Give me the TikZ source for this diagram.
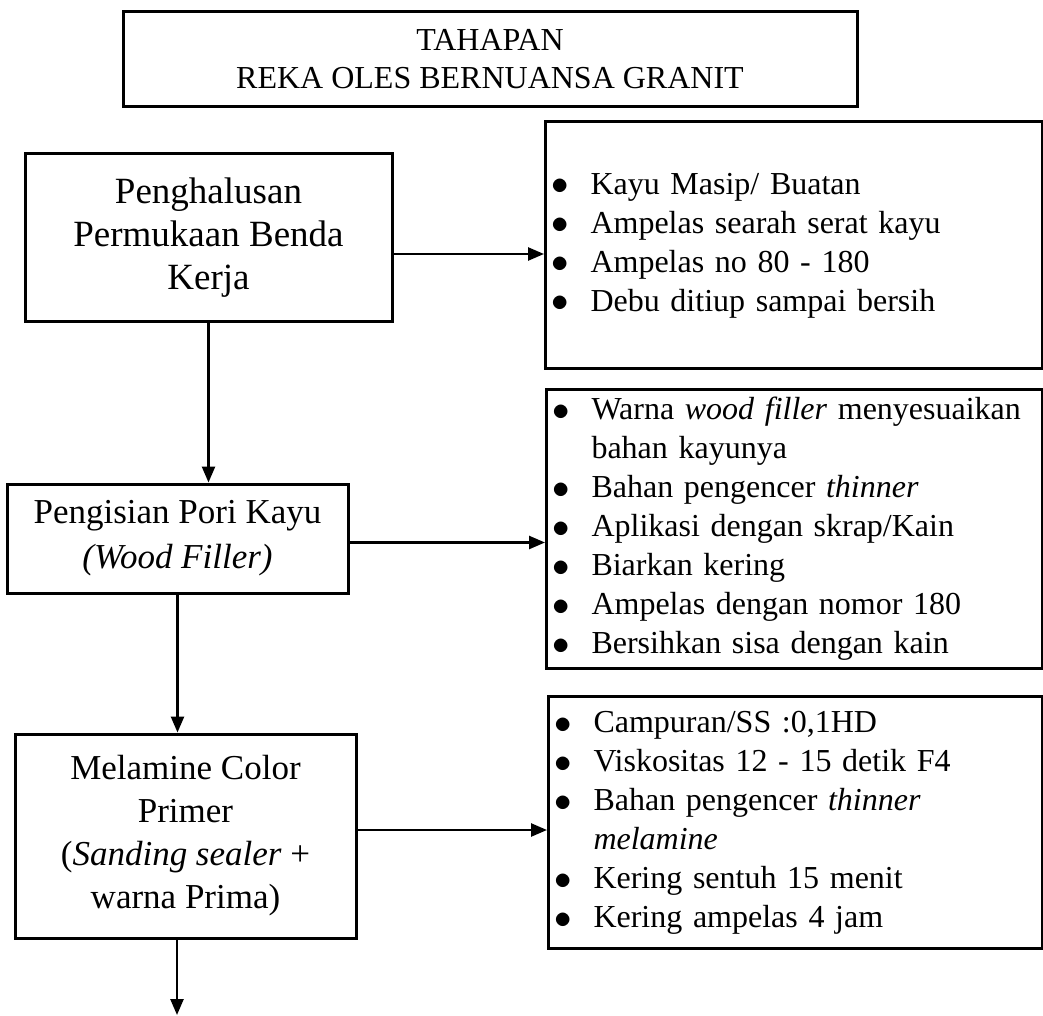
\documentclass[tikz,border=0pt]{standalone}
\usepackage{fontspec}
\setmainfont{Liberation Serif}
\usetikzlibrary{arrows.meta,positioning,calc}

\newcommand{\bul}{\makebox[45pt][l]{\hspace{6pt}\raisebox{-0.02em}{\scalebox{1.4}{$\bullet$}}}}

\begin{document}
\begin{tikzpicture}[x=1pt, y=-1pt,
    stage/.style={draw, line width=3pt, align=center, inner sep=0pt},
    infobox/.style={draw, line width=3pt, anchor=north west, align=left, inner sep=0pt,
        font=\fontsize{32}{39}\selectfont},
    flow/.style={line width=2.5pt, -{Triangle[length=16pt,width=13pt]}}]
    \useasboundingbox (0,0) rectangle (1043,1016);

    \node[stage, minimum width=734, minimum height=95, font=\fontsize{32}{38}\selectfont] (title) at (490,59.5) {TAHAPAN\\REKA OLES BERNUANSA GRANIT};

    \node[stage, minimum width=367, minimum height=167, font=\fontsize{37}{43}\selectfont] (smooth) at (208.5,237.5) {Penghalusan\\Permukaan Benda\\Kerja};
    \node[stage, minimum width=341, minimum height=109, font=\fontsize{35}{45}\selectfont] (filler) at (177.5,538.5) {Pengisian Pori Kayu\\\textit{(Wood Filler)}};
    \node[stage, minimum width=341, minimum height=204, font=\fontsize{35}{43}\selectfont] (primer) at (185.5,836) {Melamine Color\\Primer\\(\textit{Sanding sealer} +\\warna Prima)};

    \node[infobox, text width=497pt, minimum height=247] (info1) at (544,120) {\noindent\begin{tabular}{@{}l@{}l@{}}
        \bul & Kayu Masip/ Buatan\\
        \bul & Ampelas searah serat kayu\\
        \bul & Ampelas no 80 - 180\\
        \bul & Debu ditiup sampai bersih
    \end{tabular}};
    \node[infobox, text width=496pt, minimum height=279] (info2) at (545,388) {\noindent\begin{tabular}{@{}l@{}l@{}}
        \bul & Warna \textit{wood filler} menyesuaikan\\
             & bahan kayunya\\
        \bul & Bahan pengencer \textit{thinner}\\
        \bul & Aplikasi dengan skrap/Kain\\
        \bul & Biarkan kering\\
        \bul & Ampelas dengan nomor 180\\
        \bul & Bersihkan sisa dengan kain
    \end{tabular}};
    \node[infobox, text width=494pt, minimum height=252] (info3) at (547,695) {\noindent\begin{tabular}{@{}l@{}l@{}}
        \bul & Campuran/SS :0,1HD\\
        \bul & Viskositas 12 - 15 detik F4\\
        \bul & Bahan pengencer \textit{thinner}\\
             & \textit{melamine}\\
        \bul & Kering sentuh 15 menit\\
        \bul & Kering ampelas 4 jam
    \end{tabular}};

    % steps to their notes
    \draw[flow] ($(smooth.east)+(0,16.5)$) -- ($(smooth.east -| info1.west)+(0,16.5)$);
    \draw[flow] ($(filler.east)+(0,4)$) -- ($(filler.east -| info2.west)+(0,4)$);
    \draw[flow] ($(primer.east)+(0,-6)$) -- ($(primer.east -| info3.west)+(0,-6)$);

    % steps downwards
    \coordinate (next) at (177,1015);
    \draw[flow] (smooth.south) -- (smooth.south |- filler.north);
    \draw[flow] (filler.south) -- (filler.south |- primer.north);
    \draw[flow] (primer.south -| next) -- (next);
\end{tikzpicture}
\end{document}
